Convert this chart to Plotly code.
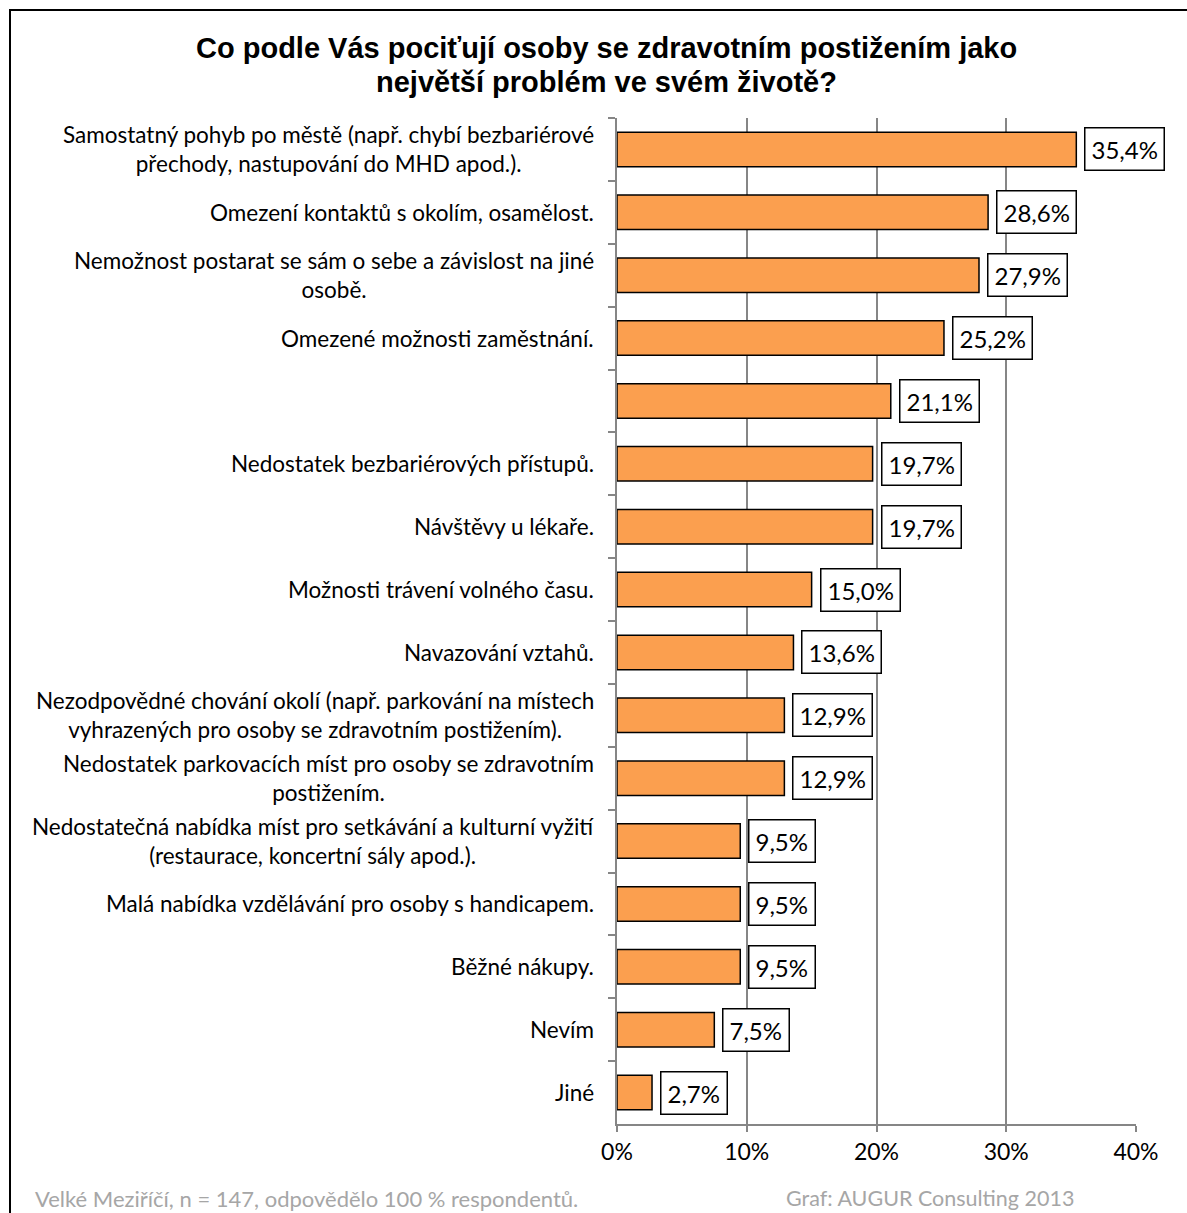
import plotly.graph_objects as go

# Survey answers (top to bottom) and share of respondents in %
categories = [
    "Samostatný pohyb po městě (např. chybí bezbariérové<br>přechody, nastupování do MHD apod.).",
    "Omezení kontaktů s okolím, osamělost.",
    "Nemožnost postarat se sám o sebe a závislost na jiné<br>osobě.",
    "Omezené možnosti zaměstnání.",
    "",
    "Nedostatek bezbariérových přístupů.",
    "Návštěvy u lékaře.",
    "Možnosti trávení volného času.",
    "Navazování vztahů.",
    "Nezodpovědné chování okolí (např. parkování na místech<br>vyhrazených pro osoby se zdravotním postižením).",
    "Nedostatek parkovacích míst pro osoby se zdravotním<br>postižením.",
    "Nedostatečná nabídka míst pro setkávání a kulturní vyžití<br>(restaurace, koncertní sály apod.).",
    "Malá nabídka vzdělávání pro osoby s handicapem.",
    "Běžné nákupy.",
    "Nevím",
    "Jiné",
]
values = [35.4, 28.6, 27.9, 25.2, 21.1, 19.7, 19.7, 15.0, 13.6, 12.9, 12.9, 9.5, 9.5, 9.5, 7.5, 2.7]
x_ticks = [0, 10, 20, 30, 40]
x_tick_labels = ["0%", "10%", "20%", "30%", "40%"]

title_lines = [
    "Co podle Vás pociťují osoby se zdravotním postižením jako",
    "největší problém ve svém životě?",
]
footer_left = "Velké Meziříčí, n = 147, odpovědělo 100 % respondentů."
footer_right = "Graf: AUGUR Consulting 2013"

W, H = 1187, 1213
ML, MR, MT, MB = 617, 51, 118, 89
PW, PH = W - ML - MR, H - MT - MB


def px_x(px):
    """Horizontal pixel position -> paper fraction."""
    return (px - ML) / PW


def px_y(py):
    """Vertical pixel position (from top) -> paper fraction."""
    return (H - MB - py) / PH


# unique keys for the category axis (one label is empty)
keys = [f"c{i}" for i in range(len(categories))]

fig = go.Figure()
fig.add_trace(go.Bar(
    x=values, y=keys, orientation="h",
    width=0.55,
    marker=dict(color="#FB9F4F", line=dict(color="#000000", width=1.5)),
    hoverinfo="skip",
))

annotations = []
# value labels in boxes
for k, v in zip(keys, values):
    annotations.append(dict(
        x=v, y=k, xref="x", yref="y", xanchor="left", yanchor="middle",
        xshift=8, text=f"{v:.1f}".replace(".", ",") + "%", showarrow=False,
        font=dict(family="Lato", size=24, color="#000000"),
        bgcolor="#FFFFFF", bordercolor="#000000", borderwidth=1.5, borderpad=6,
    ))
# category labels, centred within their block, right-aligned to the axis
for k, c in zip(keys, categories):
    if not c:
        continue
    annotations.append(dict(
        x=0, y=k, xref="paper", yref="y", xanchor="right", yanchor="middle",
        xshift=-21, text=c, showarrow=False, align="center",
        font=dict(family="Lato", size=22.5, color="#000000"),
    ))
# title, one annotation per line
for line, ty in zip(title_lines, [48, 82]):
    annotations.append(dict(
        x=px_x(606), y=px_y(ty), xref="paper", yref="paper",
        text="<b>" + line + "</b>", showarrow=False,
        xanchor="center", yanchor="middle",
        font=dict(family="Liberation Sans", size=29, color="#000000"),
    ))
# footers
annotations.append(dict(
    x=px_x(33), y=px_y(1198), xref="paper", yref="paper",
    text=footer_left, showarrow=False, xanchor="left", yanchor="middle",
    font=dict(family="Lato", size=22, color="#A6A6A6"),
))
annotations.append(dict(
    x=px_x(1076), y=px_y(1198), xref="paper", yref="paper",
    text=footer_right, showarrow=False, xanchor="right", yanchor="middle",
    font=dict(family="Lato", size=21.5, color="#A6A6A6"),
))

fig.update_layout(
    width=W, height=H,
    margin=dict(l=ML, r=MR, t=MT, b=MB, pad=0),
    paper_bgcolor="#FFFFFF", plot_bgcolor="#FFFFFF",
    showlegend=False,
    annotations=annotations,
    xaxis=dict(
        range=[0, 40], tickvals=x_ticks, ticktext=x_tick_labels,
        showgrid=True, gridcolor="#868686", gridwidth=2,
        zeroline=False, showline=True, linecolor="#868686", linewidth=2,
        ticks="outside", ticklen=6, tickcolor="#868686", tickwidth=2,
        tickfont=dict(family="Lato", size=23, color="#000000"),
        fixedrange=True,
    ),
    yaxis=dict(
        categoryorder="array", categoryarray=keys, autorange="reversed",
        showticklabels=False, showgrid=False, zeroline=False,
        showline=True, linecolor="#868686", linewidth=2,
        ticks="outside", ticklen=7, tickcolor="#868686", tickwidth=2,
        tickson="boundaries", fixedrange=True,
    ),
    # outer frame of the chart, running past the right and bottom edges
    shapes=[dict(
        type="rect", xref="paper", yref="paper",
        x0=px_x(10), x1=px_x(1195),
        y0=px_y(H + 20), y1=px_y(10),
        line=dict(color="#000000", width=2), fillcolor="rgba(0,0,0,0)",
        layer="below",
    )],
)

fig.write_html("out.html")
